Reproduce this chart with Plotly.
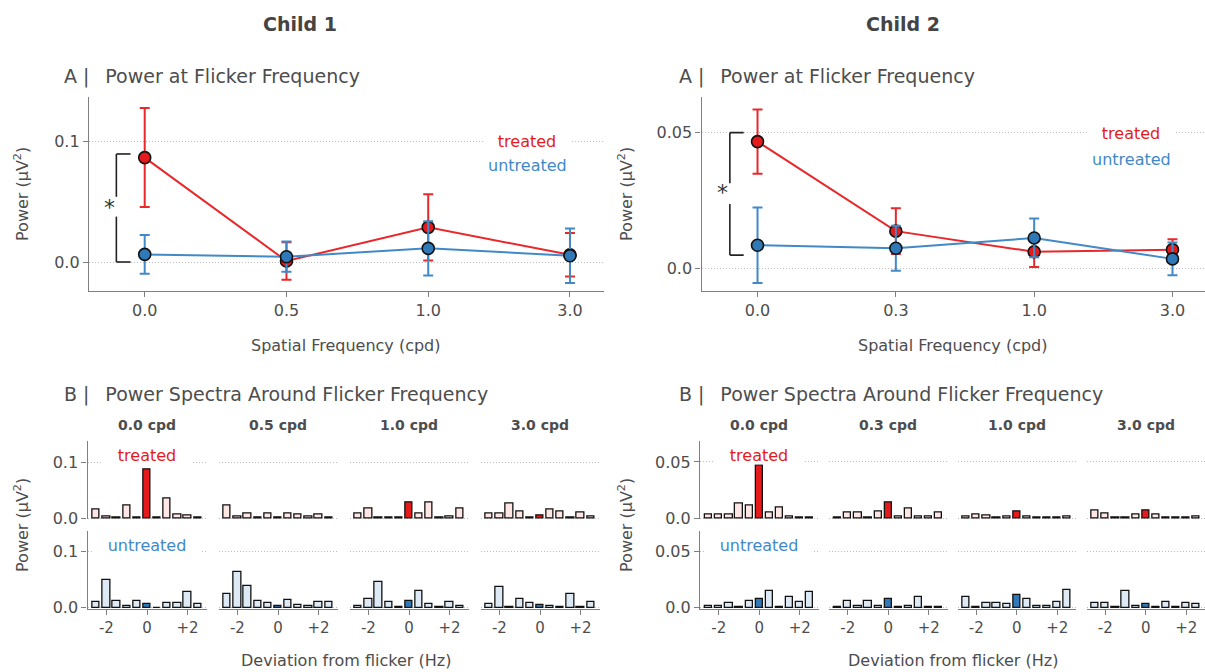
import plotly.graph_objects as go

W, H = 1205, 672

# ---------------- data ----------------
freq_labels_c1 = ["0.0", "0.5", "1.0", "3.0"]
freq_labels_c2 = ["0.0", "0.3", "1.0", "3.0"]

c1_treated = [0.0865, 0.0008, 0.0287, 0.0060]
c1_treated_err = [0.041, 0.0155, 0.0275, 0.018]
c1_untreated = [0.0063, 0.0044, 0.0113, 0.0052]
c1_untreated_err = [0.016, 0.0125, 0.0225, 0.0225]

c2_treated = [0.0467, 0.0138, 0.0062, 0.0070]
c2_treated_err = [0.0118, 0.0084, 0.0056, 0.0038]
c2_untreated = [0.0086, 0.0075, 0.0113, 0.0036]
c2_untreated_err = [0.0139, 0.0083, 0.0071, 0.0060]

deviation_hz = [-2.5, -2.0, -1.5, -1.0, -0.5, 0.0, 0.5, 1.0, 1.5, 2.0, 2.5]
dev_ticks = [-2, 0, 2]
dev_ticktext = ["-2", "0", "+2"]

c1_spec_treated = [
    [0.016, 0.003, 0.001, 0.022, 0.002, 0.086, 0.001, 0.035, 0.007, 0.005, 0.001],
    [0.023, 0.004, 0.008, 0.002, 0.008, 0.001, 0.008, 0.006, 0.003, 0.007, 0.002],
    [0.008, 0.017, 0.001, 0.001, 0.001, 0.028, 0.008, 0.028, 0.001, 0.003, 0.017],
    [0.008, 0.008, 0.026, 0.012, 0.002, 0.005, 0.016, 0.013, 0.002, 0.010, 0.004],
]
c1_spec_untreated = [
    [0.010, 0.050, 0.012, 0.004, 0.013, 0.006, 0.0005, 0.008, 0.008, 0.028, 0.006],
    [0.025, 0.064, 0.038, 0.013, 0.009, 0.004, 0.014, 0.005, 0.003, 0.011, 0.010],
    [0.003, 0.016, 0.046, 0.011, 0.002, 0.012, 0.030, 0.007, 0.002, 0.010, 0.004],
    [0.006, 0.037, 0.001, 0.015, 0.008, 0.005, 0.004, 0.002, 0.024, 0.002, 0.010],
]
c2_spec_treated = [
    [0.0035, 0.003, 0.003, 0.0135, 0.0115, 0.047, 0.0055, 0.010, 0.0015, 0.0005, 0.0005],
    [0.0005, 0.005, 0.005, 0.001, 0.006, 0.014, 0.0015, 0.009, 0.0015, 0.0015, 0.005],
    [0.002, 0.003, 0.0025, 0.001, 0.002, 0.006, 0.002, 0.001, 0.001, 0.001, 0.002],
    [0.0065, 0.004, 0.0005, 0.0005, 0.003, 0.007, 0.003, 0.0005, 0.0005, 0.0005, 0.0015],
]
c2_spec_untreated = [
    [0.0015, 0.002, 0.004, 0.0005, 0.006, 0.008, 0.015, 0.001, 0.010, 0.0055, 0.014],
    [0.0005, 0.006, 0.002, 0.006, 0.002, 0.0075, 0.0005, 0.002, 0.010, 0.0005, 0.001],
    [0.010, 0.0003, 0.0045, 0.0045, 0.0035, 0.011, 0.008, 0.002, 0.002, 0.005, 0.0155],
    [0.004, 0.004, 0.0003, 0.0145, 0.002, 0.0035, 0.001, 0.005, 0.0003, 0.0045, 0.003],
]

# ---------------- style ----------------
FONT = "DejaVu Sans"
TXT = "#4D4D4D"
AXC = "#808080"
GRID = "#BDBDBD"
GRIDDASH = "1px,2px"
RED = "#E41A1C"
RED_LINE = "#E8282B"
BLUE = "#2F79B8"
BLUE_LINE = "#4189C7"
PINK = "#FDE6E4"
LBLUE = "#DDEAF6"
KY = 1.012  # vertical layout correction


def fx(p):
    return p / W


def fy(p):
    return 1 - (p * KY) / H


fig = go.Figure()
layout = dict(
    width=W, height=H, autosize=False,
    margin=dict(l=0, r=0, t=0, b=0),
    paper_bgcolor="white", plot_bgcolor="white",
    showlegend=False,
    font=dict(family=FONT, color=TXT, size=16),
)
annotations = []
shapes = []


def axname(i, kind):
    return kind + ("axis" if i == 1 else "axis%d" % i)


def ref(i, kind):
    return kind if i == 1 else "%s%d" % (kind, i)


# ---------------- panel A ----------------
panelA = [
    dict(idx=1, xdom=(89, 604), xr=(-0.393, 3.24), yr=(-0.024, 0.1367),
         labels=freq_labels_c1, tr=c1_treated, tre=c1_treated_err,
         un=c1_untreated, une=c1_untreated_err, yticks=[0, 0.1], ytext=["0.0", "0.1"],
         bracket=dict(top=0.0895, bot=0.0, g1=0.054, g2=0.0376, ast=0.0455),
         leg_x=527, leg_y1=141, leg_y2=165.5, ytitle_x=22, xtitle_x=346),
    dict(idx=2, xdom=(701.5, 1205), xr=(-0.405, 3.235), yr=(-0.0082, 0.0631),
         labels=freq_labels_c2, tr=c2_treated, tre=c2_treated_err,
         un=c2_untreated, une=c2_untreated_err, yticks=[0, 0.05], ytext=["0.0", "0.05"],
         bracket=dict(top=0.05, bot=0.005, g1=0.0314, g2=0.0238, ast=0.0281),
         leg_x=1131, leg_y1=132.7, leg_y2=159.3, ytitle_x=626, xtitle_x=953),
]

for p in panelA:
    i = p["idx"]
    xs = list(range(len(p["labels"])))
    layout[axname(i, "x")] = dict(
        domain=[fx(p["xdom"][0]), fx(p["xdom"][1])], range=list(p["xr"]),
        anchor=ref(i, "y"), tickvals=xs, ticktext=p["labels"],
        showline=True, linecolor=AXC, linewidth=1.3, ticks="outside", ticklen=5,
        tickcolor=AXC, tickwidth=1.2, showgrid=False, zeroline=False,
        tickfont=dict(size=16, color=TXT, family=FONT),
    )
    layout[axname(i, "y")] = dict(
        domain=[fy(291), fy(97)], range=list(p["yr"]), anchor=ref(i, "x"),
        tickvals=p["yticks"], ticktext=p["ytext"],
        showline=True, linecolor=AXC, linewidth=1.3, ticks="outside", ticklen=5,
        tickcolor=AXC, tickwidth=1.2, showgrid=True, gridcolor=GRID, griddash=GRIDDASH,
        gridwidth=1, zeroline=False, tickfont=dict(size=16, color=TXT, family=FONT),
    )
    for vals, errs, lc, mc in [(p["tr"], p["tre"], RED_LINE, RED),
                               (p["un"], p["une"], BLUE_LINE, BLUE)]:
        fig.add_trace(go.Scatter(
            x=xs, y=vals, mode="lines+markers", xaxis=ref(i, "x"), yaxis=ref(i, "y"),
            line=dict(color=lc, width=2),
            marker=dict(size=12, color=mc, line=dict(color="#111111", width=1.6)),
            error_y=dict(type="data", array=errs, visible=True, color=lc,
                         thickness=2, width=5),
            hoverinfo="skip",
        ))
    b = p["bracket"]
    xr_, yr_ = ref(i, "x"), ref(i, "y")
    line = dict(color="#222222", width=1.6)
    for (x0, y0, x1, y1) in [(-0.2, b["top"], -0.1, b["top"]),
                             (-0.2, b["bot"], -0.1, b["bot"]),
                             (-0.2, b["top"], -0.2, b["g1"]),
                             (-0.2, b["g2"], -0.2, b["bot"])]:
        shapes.append(dict(type="line", xref=xr_, yref=yr_, x0=x0, y0=y0,
                           x1=x1, y1=y1, line=line))
    annotations.append(dict(xref=xr_, yref=yr_, x=-0.25, y=b["ast"], text="*",
                            showarrow=False, font=dict(size=22, color="#333333"),
                            xanchor="center", yanchor="middle"))
    # legend labels
    annotations.append(dict(xref="paper", yref="paper", x=fx(p["leg_x"]), y=fy(p["leg_y1"]),
                            text="treated", showarrow=False, bgcolor="white", width=84,
                            height=16, font=dict(size=16, color=RED),
                            xanchor="center", yanchor="middle"))
    annotations.append(dict(xref="paper", yref="paper", x=fx(p["leg_x"]), y=fy(p["leg_y2"]),
                            text="untreated", showarrow=False,
                            font=dict(size=16, color=BLUE_LINE), xanchor="center", yanchor="middle"))
    # axis titles
    annotations.append(dict(xref="paper", yref="paper", x=fx(p["ytitle_x"]), y=fy(194),
                            text="Power (μV<sup>2</sup>)", textangle=-90, showarrow=False,
                            font=dict(size=16, color=TXT), xanchor="center", yanchor="middle"))
    annotations.append(dict(xref="paper", yref="paper", x=fx(p["xtitle_x"]), y=fy(346),
                            text="Spatial Frequency (cpd)", showarrow=False,
                            font=dict(size=16, color=TXT), xanchor="center", yanchor="middle"))

# ---------------- panel B ----------------
children = [
    dict(start=3, x0s=[87.5, 218.5, 349.5, 480.5], fw=119, yr=(-0.0021, 0.1365),
         yticks=[0, 0.1], ytext=["0.0", "0.1"], labels=freq_labels_c1,
         tr=c1_spec_treated, un=c1_spec_untreated, ytitle_x=22, xtitle_x=346),
    dict(start=11, x0s=[700, 829, 957.5, 1086.5], fw=118.5, yr=(-0.00107, 0.0682),
         yticks=[0, 0.05], ytext=["0.0", "0.05"], labels=freq_labels_c2,
         tr=c2_spec_treated, un=c2_spec_untreated, ytitle_x=626, xtitle_x=953),
]
rows_px = [(441.5, 519.5), (531, 609)]

for ch in children:
    for r in range(2):
        data = ch["tr"] if r == 0 else ch["un"]
        hi, lo = (RED, PINK) if r == 0 else (BLUE, LBLUE)
        for c in range(4):
            i = ch["start"] + r * 4 + c
            x0 = ch["x0s"][c]
            bottom = (r == 1)
            left = (c == 0)
            layout[axname(i, "x")] = dict(
                domain=[fx(x0), fx(x0 + ch["fw"])], range=[-2.93, 2.93],
                anchor=ref(i, "y"), tickvals=dev_ticks, ticktext=dev_ticktext,
                showline=bottom, linecolor=AXC, linewidth=1.3,
                ticks="outside" if bottom else "", ticklen=5, tickcolor=AXC, tickwidth=1.2,
                showticklabels=bottom, showgrid=False, zeroline=False,
                tickfont=dict(size=15, color=TXT, family=FONT),
            )
            layout[axname(i, "y")] = dict(
                domain=[fy(rows_px[r][1]), fy(rows_px[r][0])], range=list(ch["yr"]),
                anchor=ref(i, "x"), tickvals=ch["yticks"], ticktext=ch["ytext"],
                showline=left, linecolor=AXC, linewidth=1.3,
                ticks="outside" if left else "", ticklen=5, tickcolor=AXC, tickwidth=1.2,
                showticklabels=left, showgrid=True, gridcolor=GRID, griddash=GRIDDASH,
                gridwidth=1, zeroline=False, tickfont=dict(size=16, color=TXT, family=FONT),
            )
            colors = [hi if d == 0 else lo for d in deviation_hz]
            fig.add_trace(go.Bar(
                x=deviation_hz, y=data[c], xaxis=ref(i, "x"), yaxis=ref(i, "y"),
                width=0.36, marker=dict(color=colors, line=dict(color="#111111", width=1.3)),
                hoverinfo="skip",
            ))
            if r == 0:
                annotations.append(dict(
                    xref="paper", yref="paper", x=fx(x0 + ch["fw"] / 2), y=fy(425),
                    text="<b>%s cpd</b>" % ch["labels"][c], showarrow=False,
                    font=dict(size=14, color=TXT), xanchor="center", yanchor="middle"))
    cx = ch["x0s"][0] + ch["fw"] / 2
    annotations.append(dict(xref="paper", yref="paper", x=fx(cx), y=fy(455.5),
                            text="treated", showarrow=False, bgcolor="white", width=88,
                            height=15, font=dict(size=16, color=RED),
                            xanchor="center", yanchor="middle"))
    annotations.append(dict(xref="paper", yref="paper", x=fx(cx), y=fy(545),
                            text="untreated", showarrow=False, bgcolor="white", width=104,
                            height=16, font=dict(size=16, color=BLUE_LINE),
                            xanchor="center", yanchor="middle"))
    annotations.append(dict(xref="paper", yref="paper", x=fx(ch["ytitle_x"]), y=fy(525),
                            text="Power (μV<sup>2</sup>)", textangle=-90, showarrow=False,
                            font=dict(size=16, color=TXT), xanchor="center", yanchor="middle"))
    annotations.append(dict(xref="paper", yref="paper", x=fx(ch["xtitle_x"]), y=fy(661),
                            text="Deviation from flicker (Hz)", showarrow=False,
                            font=dict(size=16, color=TXT), xanchor="center", yanchor="middle"))

# ---------------- titles ----------------
for cx, t in [(300, "Child 1"), (903, "Child 2")]:
    annotations.append(dict(xref="paper", yref="paper", x=fx(cx), y=fy(24),
                            text="<b>%s</b>" % t, showarrow=False,
                            font=dict(size=19, color="#444444"), xanchor="center", yanchor="middle"))
for lx in [62, 677]:
    annotations.append(dict(xref="paper", yref="paper", x=fx(lx), y=fy(77),
                            text="A\u00a0|\u00a0\u00a0\u2009Power at Flicker Frequency", showarrow=False,
                            font=dict(size=19, color=TXT), xanchor="left", yanchor="middle"))
    annotations.append(dict(xref="paper", yref="paper", x=fx(lx), y=fy(395),
                            text="B\u00a0|\u00a0\u00a0\u2009Power Spectra Around Flicker Frequency",
                            showarrow=False,
                            font=dict(size=19, color=TXT), xanchor="left", yanchor="middle"))

layout["annotations"] = annotations
layout["shapes"] = shapes
layout["bargap"] = 0
fig.update_layout(**layout)
fig.write_html(
    "out.html",
    config={"displayModeBar": False},
    post_script="document.body.style.margin='0px';document.body.style.overflow='hidden';",
)
